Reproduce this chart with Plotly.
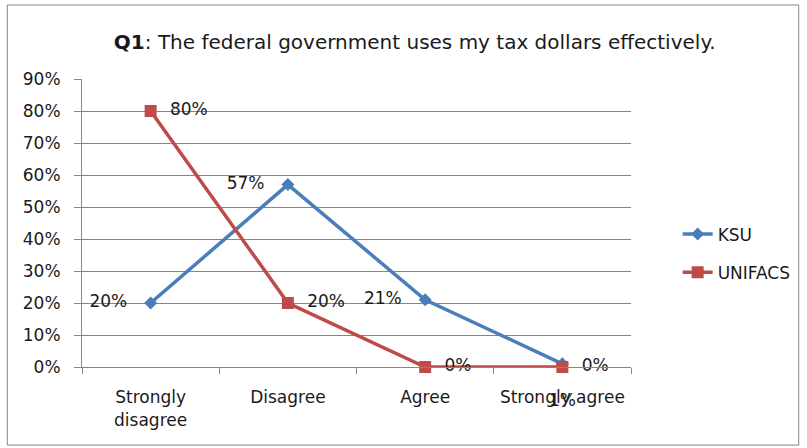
import plotly.graph_objects as go

categories = ["Strongly<br>disagree", "Disagree", "Agree", "Strongly agree"]
ksu = [0.20, 0.57, 0.21, 0.01]
unifacs = [0.80, 0.20, 0.00, 0.00]
ksu_labels = ["20%", "57%", "21%", "1%"]
unifacs_labels = ["80%", "20%", "0%", "0%"]
y_ticks = [0.0, 0.1, 0.2, 0.3, 0.4, 0.5, 0.6, 0.7, 0.8, 0.9]

FONT = "'DejaVu Sans', sans-serif"
TXT = "#1a1a1a"
GRID = "#868686"
NBSP = "\u00a0"
x_pos = list(range(len(categories)))

# KSU labels sit left of the points, except the last one which drops below
ksu_text = [t + NBSP * 3 for t in ksu_labels[:3]] + ["<br>" + ksu_labels[3]]
ksu_pos = ["middle left", "middle left", "middle left", "bottom center"]

fig = go.Figure()
fig.add_trace(go.Scatter(
    x=x_pos, y=ksu, name="KSU", mode="lines+markers+text",
    line=dict(color="#4a7ebb", width=3.5),
    marker=dict(symbol="diamond", size=10, color="#4a7ebb"),
    text=ksu_text, textposition=ksu_pos,
    textfont=dict(family=FONT, size=17, color=TXT),
    legendgroup="a", cliponaxis=False,
))
fig.add_trace(go.Scatter(
    x=x_pos, y=unifacs, name="UNIFACS", mode="lines+markers+text",
    line=dict(color="#be4b48", width=3.5),
    marker=dict(symbol="square", size=12, color="#be4b48"),
    text=[NBSP * 2 + t for t in unifacs_labels],
    textposition="middle right",
    textfont=dict(family=FONT, size=17, color=TXT),
    legendgroup="b", cliponaxis=False,
))

fig.update_layout(
    width=807, height=448,
    margin=dict(l=82, r=175, t=79, b=81),
    paper_bgcolor="white", plot_bgcolor="white",
    font=dict(family=FONT, size=17, color=TXT),
    title=dict(
        text="<b>Q1</b>: The federal government uses my tax dollars effectively.",
        x=0.514, xanchor="center", xref="container",
        y=0.906, yanchor="middle", yref="container",
        font=dict(family=FONT, size=20, color=TXT),
    ),
    showlegend=True,
    legend=dict(
        x=1.083, xanchor="left", y=0.394, yanchor="middle",
        traceorder="grouped", tracegroupgap=13,
        font=dict(family=FONT, size=17, color=TXT),
        bgcolor="rgba(0,0,0,0)",
    ),
    xaxis=dict(
        range=[-0.5, 3.5], tickvals=x_pos, ticktext=categories,
        showgrid=False, zeroline=False, ticks="",
        showline=True, linecolor=GRID, linewidth=1,
        ticklabelstandoff=15,
        tickfont=dict(family=FONT, size=17, color=TXT),
        minor=dict(tickvals=[-0.5, 0.5, 1.5, 2.5, 3.5], ticks="outside",
                   ticklen=6, tickcolor=GRID, showgrid=False),
    ),
    yaxis=dict(
        range=[0, 0.9], tickvals=y_ticks, tickformat=".0%",
        showgrid=True, gridcolor=GRID, gridwidth=1,
        zeroline=False, showline=True, linecolor=GRID, linewidth=1,
        ticks="outside", ticklen=7, tickcolor=GRID,
        ticklabelstandoff=10,
        tickfont=dict(family=FONT, size=17, color=TXT),
    ),
    shapes=[dict(
        type="rect", xref="paper", yref="paper",
        x0=-0.136, x1=1.3055, y0=-0.271, y1=1.257,
        line=dict(color=GRID, width=1), fillcolor="rgba(0,0,0,0)",
        layer="below",
    )],
)

fig.write_html("out.html")
